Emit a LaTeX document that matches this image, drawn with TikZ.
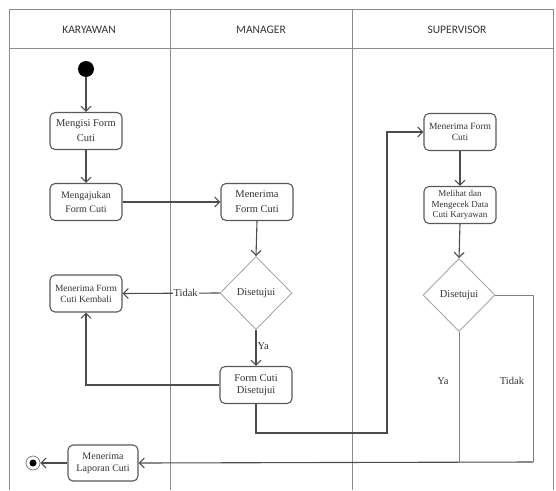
\documentclass[tikz,border=0pt]{standalone}
\usepackage{fontspec}
\setmainfont{Liberation Serif}
\newfontfamily\hdrfont{Carlito}
\usetikzlibrary{shapes.geometric,arrows.meta}
\begin{document}
\begin{tikzpicture}[x=1pt,y=-1pt,
  act/.style={draw=black!65, line width=1.1pt, rounded corners=5pt, minimum width=72pt, minimum height=37pt, align=center, inner sep=1pt, text=black!80, font=\fontsize{10.5}{15}\selectfont},
  actsmall/.style={act, font=\fontsize{9.5}{11}\selectfont},
  dec/.style={diamond, draw=black!35, line width=0.9pt, minimum width=72pt, minimum height=73pt, inner sep=0pt, text=black!80, font=\fontsize{10.5}{12}\selectfont},
  flow/.style={draw=black!70, line width=1.1pt, -{Straight Barb[length=5pt,width=10pt,line width=1.1pt]}},
  thin/.style={draw=black!50, line width=0.8pt},
  lane/.style={draw=black!45, line width=0.9pt},
  lbl/.style={font=\fontsize{10.5}{12}\selectfont, inner sep=1pt, text=black!80},
  hdr/.style={font=\hdrfont\fontsize{11.5}{13}\selectfont, text=black!80}
]
\useasboundingbox (0,0) rectangle (556,490);
% swimlanes
\draw[lane] (9,490) -- (9,9) -- (553,9) -- (553,490);
\draw[lane] (9,48) -- (553,48);
\draw[lane] (170,9) -- (170,490);
\draw[lane] (352,9) -- (352,490);
\node[hdr] (hk) at (89,30) {KARYAWAN};
\node[hdr] (hm) at (261,30) {MANAGER};
\node[hdr] (hs) at (457,30) {SUPERVISOR};
% nodes
\node[circle, fill=black, minimum size=16pt, inner sep=0pt] (start) at (86,69) {};
\node[act] (n1) at (86,131) {Mengisi Form\\Cuti};
\node[act, font=\fontsize{10}{14}\selectfont] (n2) at (86,202) {Mengajukan\\Form Cuti};
\node[act] (n3) at (257,202) {Menerima\\Form Cuti};
\node[dec] (d1) at (256,293) {Disetujui};
\node[actsmall] (n4) at (86,293.5) {Menerima Form\\Cuti Kembali};
\node[act, font=\fontsize{10.5}{12}\selectfont] (n5) at (256,385) {Form Cuti\\Disetujui};
\node[actsmall] (n6) at (460,132) {Menerima Form\\Cuti};
\node[act, font=\fontsize{9}{10.5}\selectfont] (n7) at (460,205) {Melihat dan\\Mengecek Data\\Cuti Karyawan};
\node[dec] (d2) at (459,295) {Disetujui};
\node[act, minimum width=70pt, minimum height=36pt, font=\fontsize{10}{12}\selectfont] (n8) at (103,463) {Menerima\\Laporan Cuti};
\node[circle, draw=black!50, line width=0.8pt, minimum size=14pt, inner sep=0pt] (end) at (33,463) {};
\node[circle, fill=black, minimum size=7pt, inner sep=0pt] (endc) at (end.center) {};
\coordinate (c1) at (387,433);
\coordinate (c2) at (533,462);
% connectors
\draw[flow] (start) -- (n1);
\draw[flow] (n1) -- (n2);
\draw[flow] (n2) -- (n3);
\draw[flow] (n3.south) -- (d1.north);
\draw[flow] (d1.west) -- node[lbl, fill=white, pos=0.35] (tl1) {Tidak} (n4.east);
\draw[flow] (d1.south) -- node[lbl, right, pos=0.45] (yl1) {Ya} (n5.north);
\draw[flow] (n5.west) -| (n4.south);
\draw[flow] (n5.south) |- (c1) |- (n6.west);
\draw[flow] (n6) -- (n7);
\draw[flow] (n7.south) -- (d2.north);
\draw[thin] (d2.east) -| (c2);
\draw[thin] (d2.south) -- (d2.south |- c2);
\draw[flow] (c2) -- (n8.east);
\draw[flow] (n8.west) -- (end.east);
\node[lbl] (yl2) at (443,381) {Ya};
\node[lbl] (tl2) at (512,381) {Tidak};
\end{tikzpicture}
\end{document}
